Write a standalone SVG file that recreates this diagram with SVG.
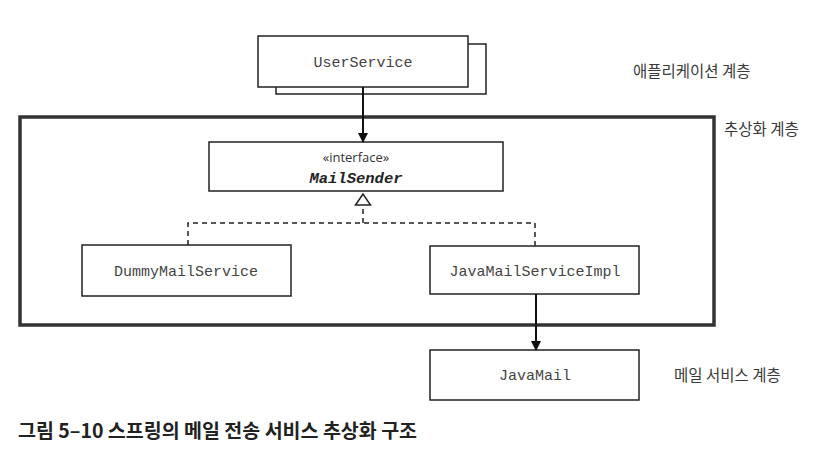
<svg xmlns="http://www.w3.org/2000/svg" width="820" height="466" viewBox="0 0 820 466">
<style>
.box{fill:#fff;stroke:#222;stroke-width:1.5}
.mono{font-family:"Liberation Mono","DejaVu Sans Mono",monospace;font-size:15px;fill:#444;text-anchor:middle}
.kr{font-family:"Noto Sans CJK KR","Noto Sans",sans-serif;font-size:15.5px;fill:#3a3a3a}
.line{stroke:#111;stroke-width:2;fill:none}
.dash{stroke:#222;stroke-width:1.5;fill:none;stroke-dasharray:5,4}
</style>
<defs>
<marker id="arr" markerWidth="10" markerHeight="10" refX="9" refY="5" orient="auto" markerUnits="userSpaceOnUse">
<path d="M0,0 L10,5 L0,10 z" fill="#111"/>
</marker>
</defs>
<rect width="820" height="466" fill="#fff"/>
<g id="frame">
<rect x="20" y="117" width="694" height="208" fill="none" stroke="#333" stroke-width="3.5"/>
</g>
<g id="UserService">
<rect class="box" x="276" y="44" width="210" height="50"/>
<rect class="box" x="258" y="36" width="210" height="51"/>
<text class="mono" x="363" y="67">UserService</text>
</g>
<g id="MailSender">
<rect class="box" x="209" y="142" width="294" height="49"/>
<text x="356" y="162" text-anchor="middle" font-family="'Open Sans','Liberation Sans',sans-serif" font-size="13" fill="#333">«interface»</text>
<text x="356" y="183" text-anchor="middle" font-family="'Liberation Mono',monospace" font-size="15.5" font-weight="bold" font-style="italic" fill="#222">MailSender</text>
</g>
<g id="DummyMailService">
<rect class="box" x="82" y="245" width="209" height="51"/>
<text class="mono" x="186" y="276">DummyMailService</text>
</g>
<g id="JavaMailServiceImpl">
<rect class="box" x="430" y="246" width="209" height="48"/>
<text class="mono" x="535" y="276">JavaMailServiceImpl</text>
</g>
<g id="JavaMail">
<rect class="box" x="430" y="350" width="209" height="50"/>
<text class="mono" x="535" y="380">JavaMail</text>
</g>
<g id="connectors">
<line class="line" x1="363" y1="87" x2="363" y2="142" marker-end="url(#arr)"/>
<path class="dash" d="M188,245 V223 H535 V246"/>
<line class="dash" x1="363" y1="223" x2="363" y2="204"/>
<path d="M363,194 L355.5,205 L370.5,205 z" fill="#fff" stroke="#222" stroke-width="1.5"/>
<line class="line" x1="536" y1="294" x2="536" y2="350" marker-end="url(#arr)"/>
</g>
<g id="labels">
<text class="kr" x="633" y="77">애플리케이션 계층</text>
<text class="kr" x="724" y="135">추상화 계층</text>
<text class="kr" x="674" y="381">메일 서비스 계층</text>
<text x="18" y="438" font-family="'Noto Sans CJK KR','Noto Sans',sans-serif" font-size="19.5" font-weight="bold" fill="#222">그림 5–10 스프링의 메일 전송 서비스 추상화 구조</text>
</g>
</svg>
